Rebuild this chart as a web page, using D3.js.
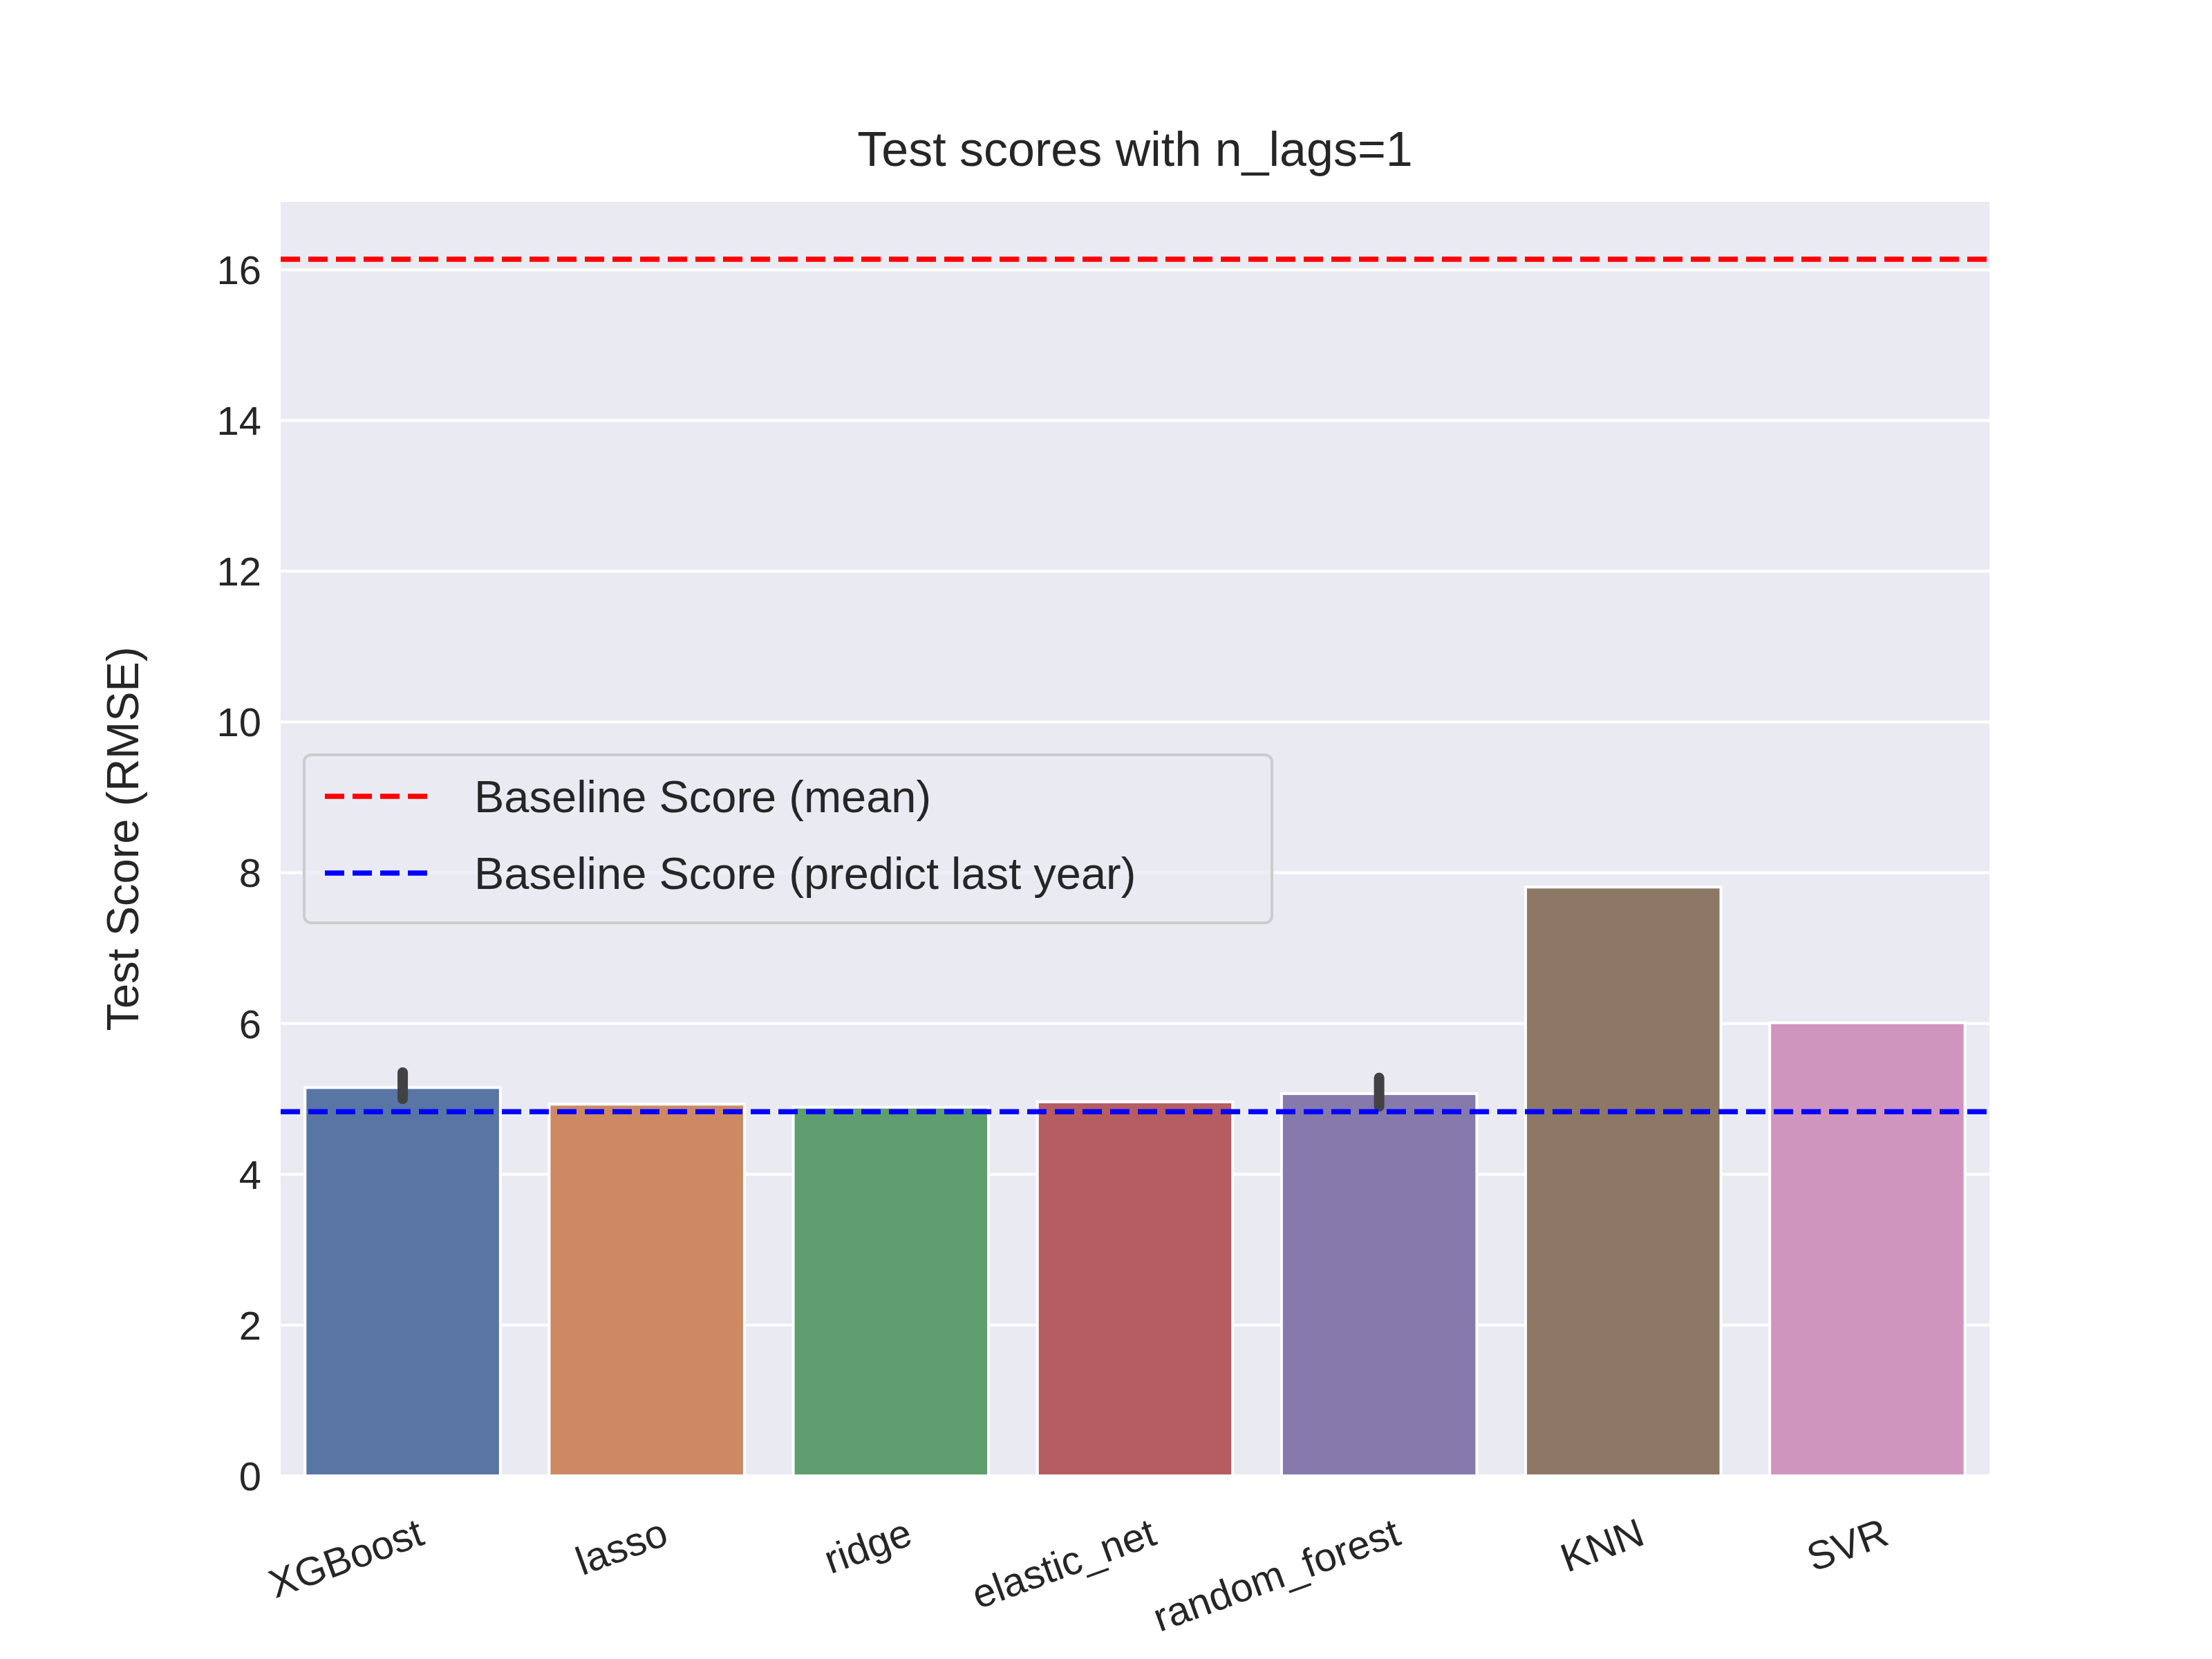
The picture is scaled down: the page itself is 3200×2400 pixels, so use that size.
<!DOCTYPE html>
<html><head><meta charset="utf-8">
<script src="https://cdn.jsdelivr.net/npm/d3@7"></script>
<style>body{margin:0;background:#fff}text{font-family:"Liberation Sans",Arial,sans-serif;fill:#262626}</style>
</head><body><svg id="c" width="3200" height="2400"></svg>
<script>
const models = ["XGBoost","lasso","ridge","elastic_net","random_forest","KNN","SVR"];
const scores = [5.15,4.93,4.89,4.96,5.07,7.81,6.01];
const errLow = [5.0,null,null,null,4.9,null,null];
const errHigh = [5.35,null,null,null,5.28,null,null];
const colors = ["#5975a4","#cc8963","#5f9e6e","#b55d60","#857aab","#8d7866","#d095bf"];
const yTicks = [0,2,4,6,8,10,12,14,16];
const baselineMean = 16.14, baselineLast = 4.83;

const m = {left:406, top:292, right:2878, bottom:2135};
const svg = d3.select("#c");
const x = d3.scaleBand().domain(models).range([m.left,m.right]).paddingInner(0.2).paddingOuter(0.1);
const y = d3.scaleLinear().domain([0,16.9]).range([m.bottom,m.top]);

svg.append("rect").attr("x",m.left).attr("y",m.top).attr("width",m.right-m.left).attr("height",m.bottom-m.top).attr("fill","#eaeaf2");
svg.append("g").selectAll("line").data(yTicks).join("line")
  .attr("x1",m.left).attr("x2",m.right).attr("y1",d=>y(d)).attr("y2",d=>y(d))
  .attr("stroke","#fff").attr("stroke-width",4);

svg.append("g").selectAll("rect").data(models).join("rect")
  .attr("x",d=>x(d)).attr("width",x.bandwidth())
  .attr("y",(d,i)=>y(scores[i])).attr("height",(d,i)=>y(0)-y(scores[i]))
  .attr("fill",(d,i)=>colors[i]).attr("stroke","#fff").attr("stroke-width",4);

svg.append("g").selectAll("line").data(models.filter((d,i)=>errLow[i]!=null)).join("line")
  .attr("x1",d=>x(d)+x.bandwidth()/2).attr("x2",d=>x(d)+x.bandwidth()/2)
  .attr("y1",d=>y(errLow[models.indexOf(d)])).attr("y2",d=>y(errHigh[models.indexOf(d)]))
  .attr("stroke","#424242").attr("stroke-width",15).attr("stroke-linecap","round");

[[baselineMean,"red"],[baselineLast,"blue"]].forEach(([v,c])=>{
  svg.append("line").attr("x1",m.left).attr("x2",m.right).attr("y1",y(v)).attr("y2",y(v))
    .attr("stroke",c).attr("stroke-width",7.5).attr("stroke-dasharray","28,12");
});

// y axis
svg.append("g").selectAll("text").data(yTicks).join("text")
  .attr("x",m.left-28).attr("y",d=>y(d)).attr("dy","0.36em").attr("text-anchor","end")
  .attr("font-size",58).text(d=>d);
// x axis
svg.append("g").selectAll("text").data(models).join("text")
  .attr("transform",d=>`translate(${x(d)+x.bandwidth()/2+20},${m.bottom+60}) rotate(-20)`)
  .attr("dy","0.7em").attr("text-anchor","end").attr("font-size",58).text(d=>d);

svg.append("text").attr("transform",`translate(200,${(m.top+m.bottom)/2}) rotate(-90)`)
  .attr("text-anchor","middle").attr("font-size",65).text("Test Score (RMSE)");
svg.append("text").attr("x",(m.left+m.right)/2).attr("y",240).attr("text-anchor","middle")
  .attr("font-size",70).text("Test scores with n_lags=1");

// legend
const lg = svg.append("g").attr("transform","translate(440,1092)");
lg.append("rect").attr("width",1400).attr("height",243).attr("rx",10)
  .attr("fill","#eaeaf2").attr("fill-opacity",0.8).attr("stroke","#ccc").attr("stroke-width",4);
[["Baseline Score (mean)","red"],["Baseline Score (predict last year)","blue"]].forEach(([t,c],i)=>{
  const yy = 60+i*111;
  lg.append("line").attr("x1",30).attr("x2",180).attr("y1",yy).attr("y2",yy)
    .attr("stroke",c).attr("stroke-width",7.5).attr("stroke-dasharray","28,12");
  lg.append("text").attr("x",246).attr("y",yy).attr("dy","0.36em").attr("font-size",65).text(t);
});
</script></body></html>
